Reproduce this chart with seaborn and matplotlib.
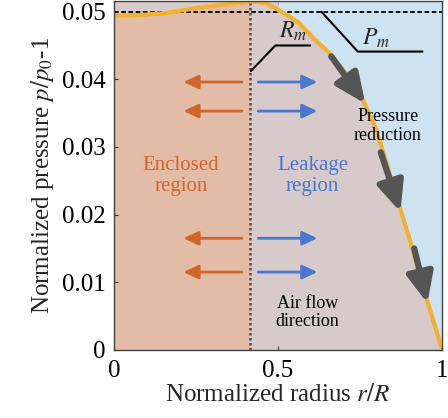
import numpy as np
import pandas as pd
import matplotlib
matplotlib.use("Agg")
import matplotlib.pyplot as plt
import seaborn as sns

# normalized radius vs normalized pressure
r_vals = [0.0, 0.08, 0.16, 0.26, 0.36, 0.42, 0.46, 0.50, 0.56, 0.61,
          0.66, 0.72, 0.76, 0.80, 0.86, 0.90, 0.95, 1.0]
p_vals = [0.0494, 0.0495, 0.0498, 0.0506, 0.0512, 0.0515, 0.0513, 0.0503,
          0.0485, 0.0460, 0.0437, 0.0400, 0.0368, 0.0325, 0.0228, 0.0165,
          0.0080, 0.0]
r_m = 0.415
p_m = 0.05
x_ticks = [0, 0.5, 1]
x_ticklabels = ["0", "0.5", "1"]
y_ticks = [0, 0.01, 0.02, 0.03, 0.04, 0.05]
y_ticklabels = ["0", "0.01", "0.02", "0.03", "0.04", "0.05"]

df = pd.DataFrame({"r": r_vals, "p": p_vals})

sns.set_style("ticks")
plt.rcParams["font.family"] = ["Liberation Serif", "DejaVu Serif"]
plt.rcParams["mathtext.fontset"] = "stix"

c_peach = "#E3BCA7"
c_gray = "#D6CACA"
c_blue = "#CDE3F2"
c_curve = "#F2B12E"
c_orange = "#D2662A"
c_lblue = "#4A78CC"

fig = plt.figure(figsize=(4.48, 4.18), dpi=100)
ax = fig.add_axes([0.254, 0.163, 0.733, 0.835])
ymax = 0.0516

r = df["r"].to_numpy()
p = df["p"].to_numpy()

ax.set_facecolor(c_gray)
ax.axvspan(0, r_m, color=c_peach, lw=0, zorder=0)
ax.fill_between(r, p, ymax, where=r <= 0.5, color=c_gray, lw=0, zorder=1)
ax.fill_between(r, p, ymax, where=r >= 0.5, color=c_blue, lw=0, zorder=1)

ax.axhline(p_m, color="black", lw=1.3, ls=(0, (2.6, 1.4)), zorder=3)
ax.axvline(r_m, color="#5a4942", lw=1.8, ls=(0, (1, 1)), zorder=3)

sns.lineplot(data=df, x="r", y="p", color=c_curve, lw=3, ax=ax, zorder=4)

# pressure reduction arrows along the curve
gray_arrow = dict(arrowstyle="-|>,head_length=0.9,head_width=0.4",
                  color="#555555", lw=4.5, mutation_scale=20,
                  shrinkA=0, shrinkB=0)
for start, tip in [((0.662, 0.0434), (0.766, 0.0364)),
                   ((0.813, 0.0292), (0.873, 0.0204)),
                   ((0.915, 0.0150), (0.955, 0.0069))]:
    ax.annotate("", xy=tip, xytext=start, arrowprops=gray_arrow, zorder=5)

# air flow arrows
flow_style = "-|>,head_length=0.9,head_width=0.42"
for yy in [0.0396, 0.0353, 0.0165, 0.0115]:
    ax.annotate("", xy=(0.212, yy), xytext=(0.39, yy),
                arrowprops=dict(arrowstyle=flow_style, color=c_orange, lw=2,
                                mutation_scale=10, shrinkA=0, shrinkB=0), zorder=5)
    ax.annotate("", xy=(0.62, yy), xytext=(0.44, yy),
                arrowprops=dict(arrowstyle=flow_style, color=c_lblue, lw=2,
                                mutation_scale=10, shrinkA=0, shrinkB=0), zorder=5)

# leader lines for R_m and P_m
ax.plot([0.417, 0.492, 0.598], [0.0412, 0.0450, 0.0450], color="black", lw=1.5, zorder=5)
ax.plot([0.632, 0.743, 0.94], [0.0500, 0.0441, 0.0441], color="black", lw=1.5, zorder=5)
ax.text(0.545, 0.0471, "$R_m$", fontsize=17, ha="center", va="center", zorder=6)
ax.text(0.80, 0.0460, "$P_m$", fontsize=17, ha="center", va="center", zorder=6)

ax.text(0.205, 0.0257, "Enclosed\nregion", color=c_orange, fontsize=15,
        ha="center", va="center", linespacing=1.15, zorder=6)
ax.text(0.605, 0.0257, "Leakage\nregion", color=c_lblue, fontsize=15,
        ha="center", va="center", linespacing=1.15, zorder=6)
ax.text(0.835, 0.0331, "Pressure\nreduction", color="black", fontsize=13,
        ha="center", va="center", linespacing=1.1, zorder=6)
ax.text(0.59, 0.0055, "Air flow\ndirection", color="black", fontsize=13,
        ha="center", va="center", linespacing=1.1, zorder=6)

ax.set_xlim(0, 1)
ax.set_ylim(0, ymax)
ax.set_xticks(x_ticks)
ax.set_xticklabels(x_ticklabels)
ax.set_yticks(y_ticks)
ax.set_yticklabels(y_ticklabels)
ax.tick_params(direction="in", length=3, width=0.8, colors="#333333",
               labelcolor="black", labelsize=18, top=True, right=True)
ax.tick_params(axis="x", pad=7)
ax.tick_params(axis="y", pad=6)
for s in ax.spines.values():
    s.set_color("#444444")
    s.set_linewidth(1.0)
    s.set_zorder(7)

ax.set_xlabel("Normalized radius $r/R$", fontsize=18, labelpad=2)
ax.set_ylabel("Normalized pressure $p/p_0$-1", fontsize=18, labelpad=4)

fig.savefig("out.png", dpi=100)
